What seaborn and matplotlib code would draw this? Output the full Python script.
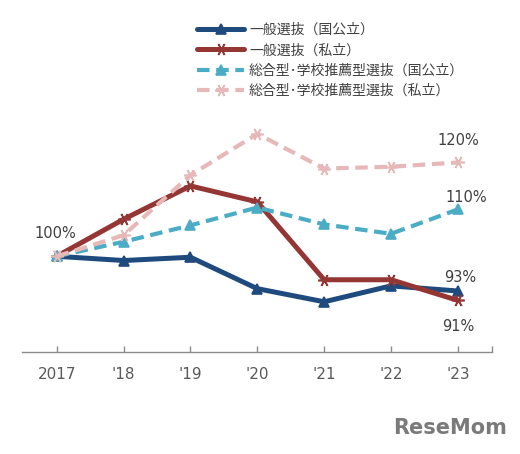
import matplotlib
matplotlib.use("Agg")
import matplotlib.pyplot as plt
import pandas as pd
import seaborn as sns

# data (index, 2017 = 100%)
years = ["2017", "'18", "'19", "'20", "'21", "'22", "'23"]
general_national = [100, 99.1, 99.8, 93.1, 90.3, 93.7, 92.6]
general_private = [100, 107.9, 115.0, 111.6, 95.0, 95.0, 90.6]
comprehensive_national = [100, 103.1, 106.6, 110.4, 106.8, 104.8, 110.0]
comprehensive_private = [100, 104.5, 117.3, 126.1, 118.7, 119.1, 120.0]

series_names = [
    "一般選抜（国公立）",
    "一般選抜（私立）",
    "総合型･学校推薦型選抜（国公立）",
    "総合型･学校推薦型選抜（私立）",
]
end_labels = ["100%", "120%", "110%", "93%", "91%"]

sns.set_theme(style="white")
plt.rcParams["font.family"] = ["Noto Sans CJK JP", "DejaVu Sans"]
plt.rcParams["xtick.direction"] = "in"
plt.rcParams["xtick.bottom"] = True

styles = [
    dict(color="#1F4A7E", marker="^", lw=3.6, ls="-", ms=7),
    dict(color="#943634", marker=(6, 2, 90), lw=3.6, ls="-", ms=9),
    dict(color="#4BACC6", marker="^", lw=3.0, ls=(0, (3, 1.6)), ms=7),
    dict(color="#E6B9B8", marker=(6, 2, 90), lw=3.0, ls=(0, (3, 1.6)), ms=9),
]
all_values = [general_national, general_private, comprehensive_national, comprehensive_private]

fig = plt.figure(figsize=(5.2, 4.54), dpi=100)
ax = fig.add_axes([0.0423, 0.2247, 0.9038, 0.5207])

x = list(range(len(years)))
for name, vals, st in zip(series_names, all_values, styles):
    df = pd.DataFrame({"x": x, "y": vals})
    sns.lineplot(data=df, x="x", y="y", ax=ax, color=st["color"], lw=st["lw"],
                 marker=st["marker"], markersize=st["ms"], markeredgecolor=st["color"],
                 markeredgewidth=1.2, linestyle=st["ls"], label=name)

ax.set_xlim(-0.52, 6.51)
ax.set_ylim(79.6, 130)
ax.set_xticks(x)
ax.set_xticklabels(years)
ax.set_xlabel("")
ax.set_ylabel("")
ax.set_yticks([])
for side in ["top", "left", "right"]:
    ax.spines[side].set_visible(False)
ax.spines["bottom"].set_color("#8c8c8c")
ax.spines["bottom"].set_linewidth(1.0)
ax.set_xticks([6.51], minor=True)
ax.tick_params(axis="x", which="both", bottom=True, direction="in", length=4, width=1,
               color="#8c8c8c", labelsize=11, labelcolor="#595959", pad=11)
for lab in ax.get_xticklabels():
    lab.set_family(["DejaVu Sans"])

# value labels
txt = dict(fontsize=10.5, color="#404040", ha="center", va="center", family=["DejaVu Sans"])
ax.text(-0.02, 104.9, end_labels[0], **txt)
ax.text(6.0, 124.7, end_labels[1], **txt)
ax.text(6.12, 112.5, end_labels[2], **txt)
ax.text(6.03, 95.4, end_labels[3], **txt)
ax.text(6.0, 85.1, end_labels[4], **txt)

ax.legend(loc="upper left", bbox_to_anchor=(197 / 520, 1 - 23 / 454),
          bbox_transform=fig.transFigure, frameon=False, fontsize=10,
          handlelength=3.4, handletextpad=0.35, labelspacing=0.45,
          borderpad=0, borderaxespad=0, labelcolor="#404040")

fig.text(0.975, 0.035, "ReseMom", ha="right", va="bottom", fontsize=15,
         fontweight="bold", color="#7a7a7a", family=["DejaVu Sans"])

fig.savefig("out.png", dpi=100)
